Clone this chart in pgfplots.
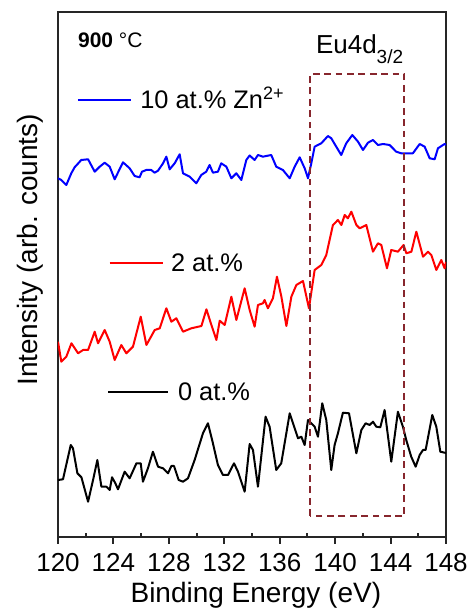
\documentclass[border=0pt]{standalone}
\usepackage{fontspec}
\setmainfont{Liberation Sans}
\usepackage{pgfplots}
\pgfplotsset{compat=1.18}
\definecolor{boxc}{RGB}{135,38,45}
\begin{document}
\begin{tikzpicture}
\path[use as bounding box] (-29pt,-38.5pt) rectangle (206pt,268.5pt);
\begin{axis}[
  scale only axis, width=194pt, height=262.5pt,
  at={(0,0)}, anchor=south west,
  xmin=120, xmax=148, ymin=77, ymax=602,
  xtick={120,124,...,148}, minor x tick num=1,
  ytick=\empty,
  xtick pos=left, tick align=outside,
  major tick length=3.5pt, minor tick length=1.8pt,
  axis line style={line width=1.3pt, draw=black!85},
  tick style={line width=1pt, black!85},
  every minor x tick/.append style={yshift=1.8pt},
  /pgf/number format/assume math mode=true,
  xticklabel style={font=\fontsize{13}{13}\selectfont, anchor=base, yshift=-13.8pt},
  xlabel={Binding Energy (eV)},
  xlabel style={font=\fontsize{14}{14}\selectfont, at={(rel axis cs:0.51,0)}, anchor=base, yshift=-32.5pt, inner sep=0pt},
  ylabel={Intensity (arb. counts)},
  ylabel style={font=\fontsize{14}{14}\selectfont, at={(rel axis cs:-0.036,0.547)}, anchor=south, inner sep=0pt},
]
% 10 at.% Zn2+
\addplot[blue, line width=1pt, line join=round] coordinates {
(120.00,435.7) (120.24,434) (120.60,429) (120.96,440.7) (121.20,446.7) (121.68,454) (122.17,454.7)
(122.65,442.3) (123.01,447.3) (123.37,451.3) (123.73,447.3) (124.09,434.7) (124.69,451.7) (125.17,445.7)
(125.53,438) (125.89,436.7) (126.06,442.3) (126.37,444) (126.73,444) (126.97,441.3) (127.22,443.3)
(127.58,450.7) (127.82,457.3) (128.06,444.7) (128.42,450.7) (128.78,459.7) (129.02,440.7) (129.50,437.3)
(129.98,430.7) (130.34,439) (130.70,442.3) (130.94,449) (131.18,441.3) (131.54,442.3) (131.78,450.7)
(132.15,447.3) (132.51,435.7) (132.87,440.7) (133.23,434) (133.59,454) (133.83,458.5) (134.19,454)
(134.43,459) (134.79,457.3) (135.03,458) (135.39,459) (135.75,447.3) (136.23,444) (136.72,435.7)
(137.08,447.3) (137.44,456.7) (137.80,445.7) (138.04,435.7) (138.28,450.7) (138.52,467.3) (139.00,470.7)
(139.48,478) (139.72,475.7) (140.08,467.3) (140.44,459) (140.80,470.7) (141.24,479) (141.65,472.3)
(142.01,464) (142.37,471.3) (142.73,474) (143.09,469) (143.45,470) (143.93,469) (144.41,462.3)
(144.77,460.7) (145.13,460.7) (145.61,460.7) (146.10,470) (146.46,467.3) (146.82,455.7) (147.18,454.7)
(147.42,465.7) (147.90,470) (148.00,469)
};
% 2 at.%
\addplot[red, line width=1pt, line join=round] coordinates {
(120.00,272.3) (120.24,252.3) (120.60,257.3) (120.97,270.7) (121.45,260.7) (121.81,264) (122.17,264)
(122.65,282.3) (122.89,270.7) (123.37,284) (123.73,272.3) (124.09,254) (124.57,269) (124.93,260.7)
(125.41,267.3) (125.97,297.3) (126.38,269) (126.98,284) (127.34,285.7) (127.82,305.7) (128.18,292.3)
(128.54,295.7) (129.02,282.3) (129.62,285.7) (130.35,288) (130.71,304.7) (131.07,289) (131.43,274)
(131.67,293.3) (132.03,289) (132.51,317.3) (132.87,294) (133.47,325.7) (133.83,304) (134.19,287.3)
(134.43,309) (134.79,310.7) (134.91,314) (135.15,305.7) (135.51,315.7) (135.80,337.3) (136.12,317.3)
(136.48,288) (136.84,317.3) (137.20,329) (137.68,333) (138.11,305.7) (138.52,344) (139.00,349)
(139.36,359) (139.84,389) (140.20,394) (140.45,389) (140.69,399) (140.92,395.7) (141.17,402.3)
(141.53,389) (141.77,385.7) (142.25,389) (142.73,362.3) (143.09,370.7) (143.33,369) (143.74,345.7)
(144.05,364) (144.53,362.3) (144.94,369) (145.14,360.7) (145.50,362.3) (145.86,382.3) (146.34,357.3)
(146.70,362.3) (146.94,359) (147.30,344) (147.66,354) (147.90,345.7) (148.00,352)
};
% 0 at.%
\addplot[black, line width=1pt, line join=round] coordinates {
(120.00,134) (120.36,134.7) (120.92,169) (121.08,165.7) (121.40,140.7) (121.69,136.7) (122.17,112.3)
(122.53,134) (122.84,154) (123.13,127.3) (123.49,127.3) (123.73,124) (123.90,136.7) (124.14,130.7)
(124.33,124.7) (124.81,142.3) (125.17,135.7) (125.66,150.7) (125.97,150.7) (126.13,132.3) (126.49,145.7)
(126.85,162.3) (127.22,147.3) (127.58,145.7) (127.94,140.7) (128.18,148) (128.37,148) (128.71,134)
(129.02,132.3) (129.38,135.7) (129.86,154) (130.46,180.7) (130.82,190.7) (131.18,170.7) (131.54,149)
(131.90,139) (132.27,139) (132.70,150.7) (132.99,142.3) (133.47,122.3) (133.83,170) (134.07,164)
(134.43,127.3) (134.98,197.3) (135.27,187.3) (135.75,144) (136.11,150.7) (136.72,200.7) (136.96,190.7)
(137.32,175.7) (137.56,177.3) (137.80,169) (138.04,194) (138.28,190.7) (138.52,187.3) (138.76,177.3)
(139.07,210.7) (139.36,194) (139.72,144) (139.96,169) (140.20,180.7) (140.56,201.3) (141.00,200.7)
(141.53,160.7) (141.89,184) (142.20,190.7) (142.49,189) (142.73,192.3) (142.97,187.3) (143.26,186.7)
(143.57,204) (144.05,152.3) (144.53,202.3) (144.89,187.3) (145.13,174) (145.49,157.3) (145.81,147.3)
(146.10,159) (146.34,164) (146.53,164) (147.01,199) (147.30,187.3) (147.59,162.3) (147.90,161.3) (148.00,161)
};
% Eu4d box
\draw[boxc, dash pattern=on 3.4pt off 2.3pt, line width=1pt] (axis cs:138.2,98) rectangle (axis cs:145.0,540);
\node[anchor=base west, inner sep=0pt, font=\fontsize{13}{13}\selectfont] at (axis cs:138.59,560.7)
  {Eu4d\raisebox{-5pt}{\fontsize{9.5}{9.5}\selectfont 3/2}};
\node[anchor=west, inner sep=0pt, font=\fontsize{10.5}{10.5}\selectfont] at (axis cs:121.42,574) {\textbf{900} °C};
% legend entries
\draw[blue, line width=1pt] (axis cs:121.44,514) -- (axis cs:125.29,514)
  node[anchor=base west, inner sep=0pt, xshift=4pt, yshift=-4.5pt, text=black, font=\fontsize{12.7}{12.7}\selectfont]
  {10 at.\% Zn\raisebox{4.5pt}{\fontsize{9}{9}\selectfont 2+}};
\draw[red, line width=1pt] (axis cs:123.73,350.7) -- (axis cs:127.58,350.7)
  node[anchor=base west, inner sep=0pt, xshift=3.5pt, yshift=-4.3pt, text=black, font=\fontsize{12.7}{12.7}\selectfont]
  {2 at.\%};
\draw[black, line width=1pt] (axis cs:123.61,222.3) -- (axis cs:127.94,222.3)
  node[anchor=base west, inner sep=0pt, xshift=4.5pt, yshift=-4.5pt, text=black, font=\fontsize{12.7}{12.7}\selectfont]
  {0 at.\%};
\end{axis}
\end{tikzpicture}
\end{document}
